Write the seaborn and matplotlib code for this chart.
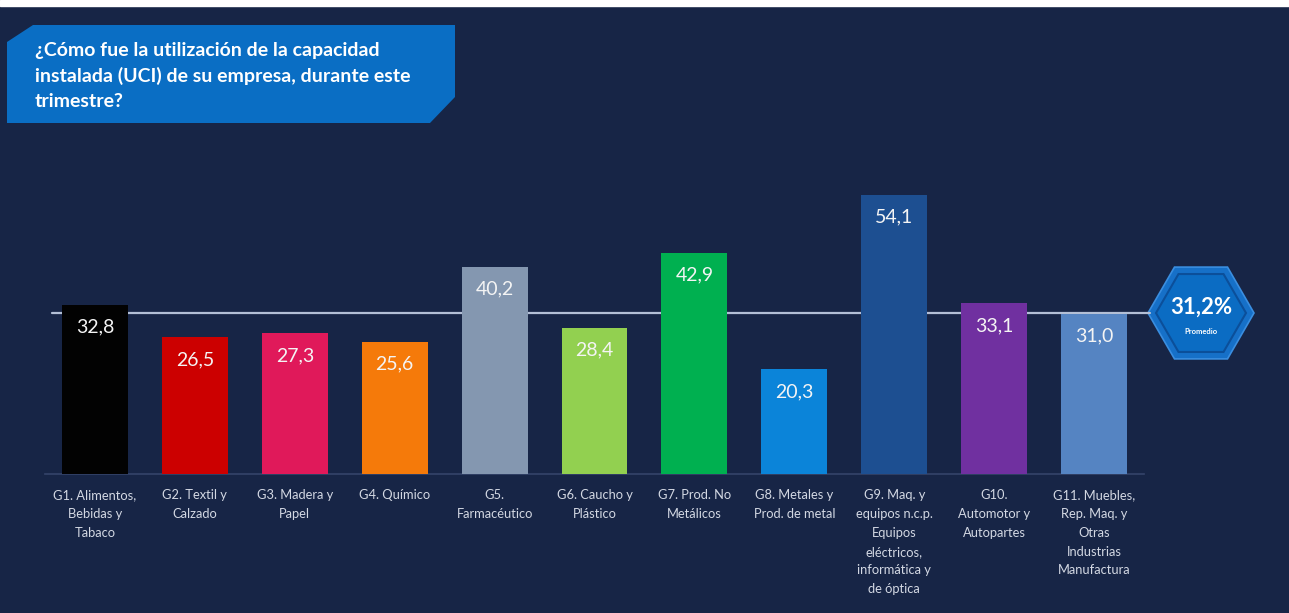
import matplotlib
matplotlib.use("Agg")
import matplotlib.pyplot as plt
import seaborn as sns
import numpy as np
from matplotlib.patches import Polygon, RegularPolygon, Rectangle

# ---------------- data ----------------
categories = [
    "G1. Alimentos,\nBebidas y\nTabaco",
    "G2. Textil y\nCalzado",
    "G3. Madera y\nPapel",
    "G4. Químico",
    "G5.\nFarmacéutico",
    "G6. Caucho y\nPlástico",
    "G7. Prod. No\nMetálicos",
    "G8. Metales y\nProd. de metal",
    "G9. Maq. y\nequipos n.c.p.\nEquipos\neléctricos,\ninformática y\nde óptica",
    "G10.\nAutomotor y\nAutopartes",
    "G11. Muebles,\nRep. Maq. y\nOtras\nIndustrias\nManufactura",
]
values = [32.8, 26.5, 27.3, 25.6, 40.2, 28.4, 42.9, 20.3, 54.1, 33.1, 31.0]
bar_colors = ["#020202", "#cc0000", "#e0195a", "#f57a0a", "#8497b0", "#92d050",
              "#00b050", "#0b84d9", "#1d4f91", "#7030a0", "#5584c2"]
average = 31.2
average_label = "31,2%"
average_caption = "Promedio"
title = "¿Cómo fue la utilización de la capacidad\ninstalada (UCI) de su empresa, durante este\ntrimestre?"

BG = "#172546"
W, H = 1289, 613

sns.set_style("dark", {"axes.facecolor": "none", "figure.facecolor": BG})
plt.rcParams["font.family"] = ["Lato", "DejaVu Sans"]

fig = plt.figure(figsize=(W / 100, H / 100), dpi=100)
fig.patch.set_facecolor(BG)

# background overlay axes in pixel coordinates (decorations)
bg = fig.add_axes([0, 0, 1, 1], zorder=0)
bg.set_xlim(0, W)
bg.set_ylim(H, 0)
bg.axis("off")
bg.patch.set_alpha(0)

bg.add_patch(Rectangle((0, 0), W, 6, color="white", zorder=1))
# title box
box = Polygon([(7, 42), (33, 25), (455, 25), (455, 97), (430, 123), (7, 123)],
              closed=True, facecolor="#0a6ec4", edgecolor="none", zorder=2)
bg.add_patch(box)
bg.text(35, 42, title, color="white", fontsize=14, fontweight="bold",
        va="top", ha="left", linespacing=1.55, zorder=3)
# hexagon average badge
cx, cy = 1201, 313
bg.add_patch(RegularPolygon((cx, cy), 6, radius=53, orientation=np.pi / 6,
                            facecolor="#1670c8", edgecolor="#3a8ee0", lw=1.2, zorder=2))
bg.add_patch(RegularPolygon((cx, cy), 6, radius=45, orientation=np.pi / 6,
                            facecolor="#0b6cc3", edgecolor="#0b4f9a", lw=1.5, zorder=3))
bg.text(cx, cy - 6, average_label, color="white", fontsize=16, fontweight="bold",
        ha="center", va="center", zorder=4)
bg.text(cx, cy + 19, average_caption, color="white", fontsize=5.5, fontweight="bold",
        ha="center", va="center", zorder=4)

# main axes
L, R = 45, 1144
bottom_px, ymax = 474, 60
scale = 5.157
ax_h = ymax * scale
ax = fig.add_axes([L / W, (H - bottom_px) / H, (R - L) / W, ax_h / H], zorder=1)
ax.patch.set_alpha(0)

sns.barplot(x=categories, y=values, hue=categories, palette=bar_colors,
            legend=False, width=0.66, saturation=1, linewidth=0, edgecolor="none",
            ax=ax, zorder=3)
ax.set_xlim(-0.5, len(categories) - 0.5)
ax.set_ylim(0, ymax)

ax.axhline(average, xmin=0.006, xmax=(1150 - L) / (R - L), color="#b3bfd6",
           lw=1.6, zorder=1, clip_on=False)

for i, v in enumerate(values):
    ax.annotate(f"{v:.1f}".replace(".", ","), (i, v), xytext=(0, -16),
                textcoords="offset points", ha="center", va="center",
                color="#f4f4f4", fontsize=14, zorder=5)

ax.set_yticks([])
ax.set_xlabel("")
ax.set_ylabel("")
ax.tick_params(axis="x", length=0, pad=11, colors="#d3d8e3", labelsize=9.3)
for lab in ax.get_xticklabels():
    lab.set_linespacing(1.68)
    lab.set_ha("center")
ax.grid(False)
for s in ["top", "right", "left"]:
    ax.spines[s].set_visible(False)
ax.spines["bottom"].set_visible(True)
ax.spines["bottom"].set_color("#34446a")
ax.spines["bottom"].set_linewidth(1.2)

fig.savefig("out.png", dpi=100, facecolor=BG)
